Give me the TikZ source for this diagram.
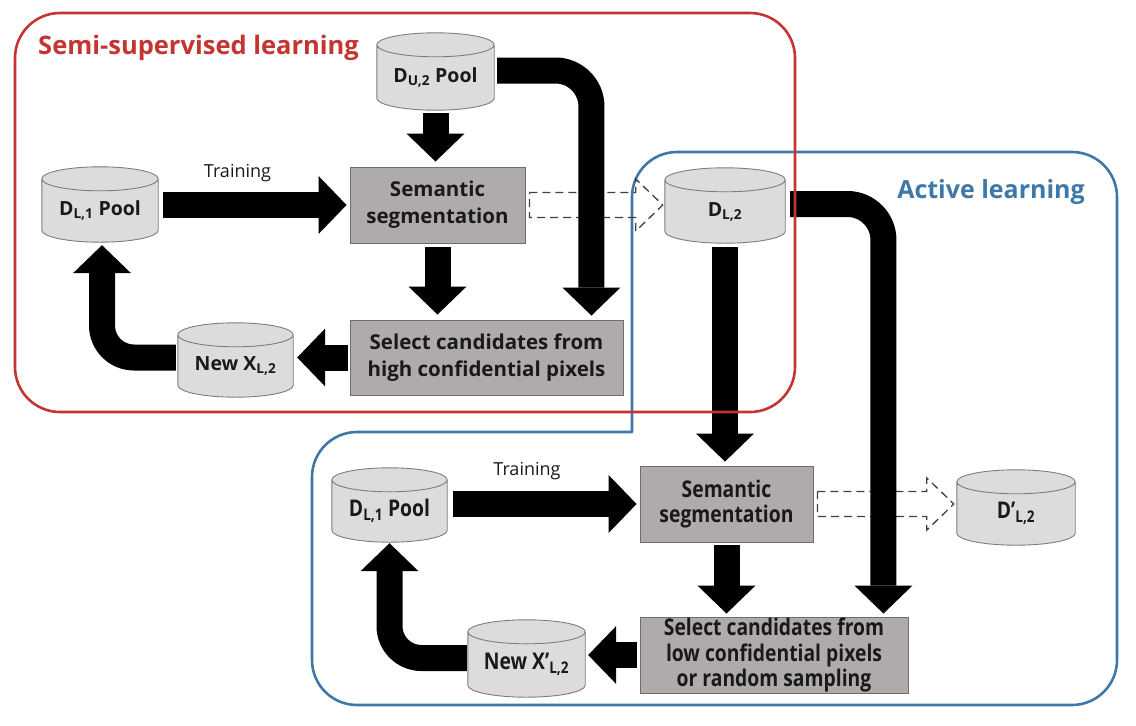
\documentclass[tikz,border=0pt]{standalone}
\usepackage{fontspec}
\setmainfont{Open Sans}
\newfontfamily\condfont[FakeStretch=0.84]{Open Sans}
\usetikzlibrary{arrows.meta,calc}
\pgfdeclarelayer{bg}
\pgfsetlayers{bg,main}
\definecolor{redc}{RGB}{196,52,48}
\definecolor{bluec}{RGB}{62,120,168}
\definecolor{boxfill}{RGB}{176,171,171}
\definecolor{boxedge}{RGB}{110,110,110}
\definecolor{cylfill}{RGB}{220,220,220}
\definecolor{cyledge}{RGB}{125,125,125}
\definecolor{txt}{RGB}{25,25,25}
\tikzset{
  ss/.style={draw=boxedge, fill=boxfill, line width=0.9pt, inner sep=0pt, align=center,
    font=\bfseries\fontsize{20.5}{27}\selectfont, text=txt},
  condtxt/.style={font=\condfont\bfseries\fontsize{23}{25.5}\selectfont},
  cyl/.style={inner sep=0pt, align=center, font=\bfseries\fontsize{19.5}{24}\selectfont, text=txt},
  cylpath/.style={draw=cyledge, fill=cylfill, line width=0.9pt},
  bigarrow/.style={draw=black, line width=26pt, -{Triangle[width=58pt,length=28pt,line width=0pt]}},
  dasharrow/.style={draw=black!75, dash pattern=on 8pt off 5pt, line width=1.3pt, line join=miter},
  redline/.style={draw=redc, line width=2.6pt},
  blueline/.style={draw=bluec, line width=2.6pt},
  tlabel/.style={font=\fontsize{18}{20}\selectfont, text=txt, inner sep=0pt},
}
\newcommand\cylinderdraw[1]{%
  \draw[cylpath] let \p1=(#1.north west), \p2=(#1.south east) in
   (\x1,\y1) -- (\x1,\y2+12pt)
   arc[start angle=180,end angle=360,x radius={(\x2-\x1)/2},y radius=12pt]
   -- (\x2,\y1)
   arc[start angle=0,end angle=180,x radius={(\x2-\x1)/2},y radius=12pt] -- cycle
   ({(\x1+\x2)/2},\y1) ellipse[x radius={(\x2-\x1)/2},y radius=12pt];}
\begin{document}
\begin{tikzpicture}[x=1pt,y=-1pt]
\useasboundingbox (0,0) rectangle (1136,726);

% blue container
\draw[blueline, rounded corners=45pt, line cap=round]
  (632,432) -- (632,152) -- (1117,152) -- (1117,705) -- (312,705) -- (312,432) -- (632,432);
\node[font=\bfseries\fontsize{25}{28}\selectfont, text=bluec, anchor=east, inner sep=0pt] (altitle) at (1085,192) {Active learning};

% boxes
\node[ss, minimum width=175pt, minimum height=76pt] (ss1) at (437.5,205) {Semantic\\segmentation};
\node[ss, minimum width=273pt, minimum height=75pt] (sel1) at (486.5,357.5) {Select candidates from\\high confidential pixels};
\node[ss, condtxt, minimum width=173pt, minimum height=76pt] (ss2) at (726.5,504) {Semantic\\segmentation};
\node[ss, condtxt, minimum width=268pt, minimum height=76pt] (sel2) at (774,655) {Select candidates from\\low confidential pixels\\or random sampling};

% cylinders (node = body below top ellipse centre)
\node[cyl, minimum width=117pt, minimum height=65pt] (du2) at (435.5,77.5) {D\textsubscript{U,2} Pool};
\node[cyl, minimum width=116pt, minimum height=63pt] (dl1a) at (100,210.5) {D\textsubscript{L,1} Pool};
\node[cyl, minimum width=115pt, minimum height=62pt] (newx) at (235.5,366) {New X\textsubscript{L,2}};
\node[cyl, minimum width=120pt, minimum height=63pt] (dl2) at (725,211.5) {D\textsubscript{L,2}};
\node[cyl, condtxt, minimum width=115pt, minimum height=62pt] (dl1b) at (389.5,511) {D\textsubscript{L,1} Pool};
\node[cyl, condtxt, minimum width=118pt, minimum height=63pt] (dp2) at (1016,513.5) {D’\textsubscript{L,2}};
\node[cyl, condtxt, minimum width=117pt, minimum height=65pt] (newxp) at (526.5,664.5) {New X’\textsubscript{L,2}};

\begin{pgfonlayer}{bg}
\cylinderdraw{du2}
\cylinderdraw{dl1a}
\cylinderdraw{newx}
\cylinderdraw{dl2}
\cylinderdraw{dl1b}
\cylinderdraw{dp2}
\cylinderdraw{newxp}
\end{pgfonlayer}

% labels
\node[tlabel] (tr1) at (237.5,173) {Training};
\node[tlabel] (tr2) at (527,471) {Training};

% dashed arrows
\coordinate (da1) at ([xshift=4pt]ss1.east);
\coordinate (db1) at ([xshift=-2pt]dl2.west |- ss1.east);
\draw[dasharrow] ($(da1)+(0,-12.5)$) -- ($(db1)+(-27,-12.5)$) -- ($(db1)+(-27,-26)$) -- (db1)
  -- ($(db1)+(-27,26)$) -- ($(db1)+(-27,12.5)$) -- ($(da1)+(0,12.5)$) -- cycle;
\coordinate (da2) at ([xshift=4pt]ss2.east);
\coordinate (db2) at ([xshift=-3pt]dp2.west |- ss2.east);
\draw[dasharrow] ($(da2)+(0,-12.5)$) -- ($(db2)+(-27,-12.5)$) -- ($(db2)+(-27,-26)$) -- (db2)
  -- ($(db2)+(-27,26)$) -- ($(db2)+(-27,12.5)$) -- ($(da2)+(0,12.5)$) -- cycle;

% black arrows, upper part
\draw[bigarrow] ([yshift=-3pt]du2.south) -- ([yshift=5pt]du2.south |- ss1.north);
\draw[bigarrow] ([xshift=5pt]dl1a.east |- ss1.west) -- ([xshift=-3pt]ss1.west);
\draw[bigarrow] ([yshift=-4pt]ss1.south) -- ([yshift=5pt]ss1.south |- sel1.north);
\draw[bigarrow] ([xshift=-2pt]sel1.west) -- ([xshift=4pt]newx.east |- sel1.west);
\draw[bigarrow, rounded corners=32pt] ([xshift=-2pt]newx.west |- sel1.west) -| ([xshift=2pt,yshift=-3pt]dl1a.south);
\draw[bigarrow, rounded corners=36pt] ([xshift=3pt,yshift=7pt]du2.east) -| ([xshift=-32pt,yshift=4pt]sel1.north east);
\draw[bigarrow] ([yshift=-4pt]dl2.south) -- ([yshift=4pt]dl2.south |- ss2.north);
\draw[bigarrow, rounded corners=36pt] ([xshift=5pt,yshift=7.5pt]dl2.east) -| ([xshift=-25pt,yshift=3pt]sel2.north east);

% black arrows, lower part
\draw[bigarrow] ([xshift=6pt]dl1b.east |- ss2.west) -- ([xshift=-3pt]ss2.west);
\draw[bigarrow] ([yshift=-3pt]ss2.south) -- ([yshift=3pt]ss2.south |- sel2.north);
\draw[bigarrow] ([xshift=-3pt]sel2.west) -- ([xshift=3pt]newxp.east |- sel2.west);
\draw[bigarrow, rounded corners=32pt] ([xshift=-1pt,yshift=6.5pt]newxp.west) -| ([yshift=-1pt]dl1b.south);

% red container on top
\draw[redline, rounded corners=45pt] (15,13) rectangle (795,412);
\node[font=\bfseries\fontsize{25.5}{28}\selectfont, text=redc, anchor=west, inner sep=0pt] (sstitle) at (38,48) {Semi-supervised learning};
\end{tikzpicture}
\end{document}
